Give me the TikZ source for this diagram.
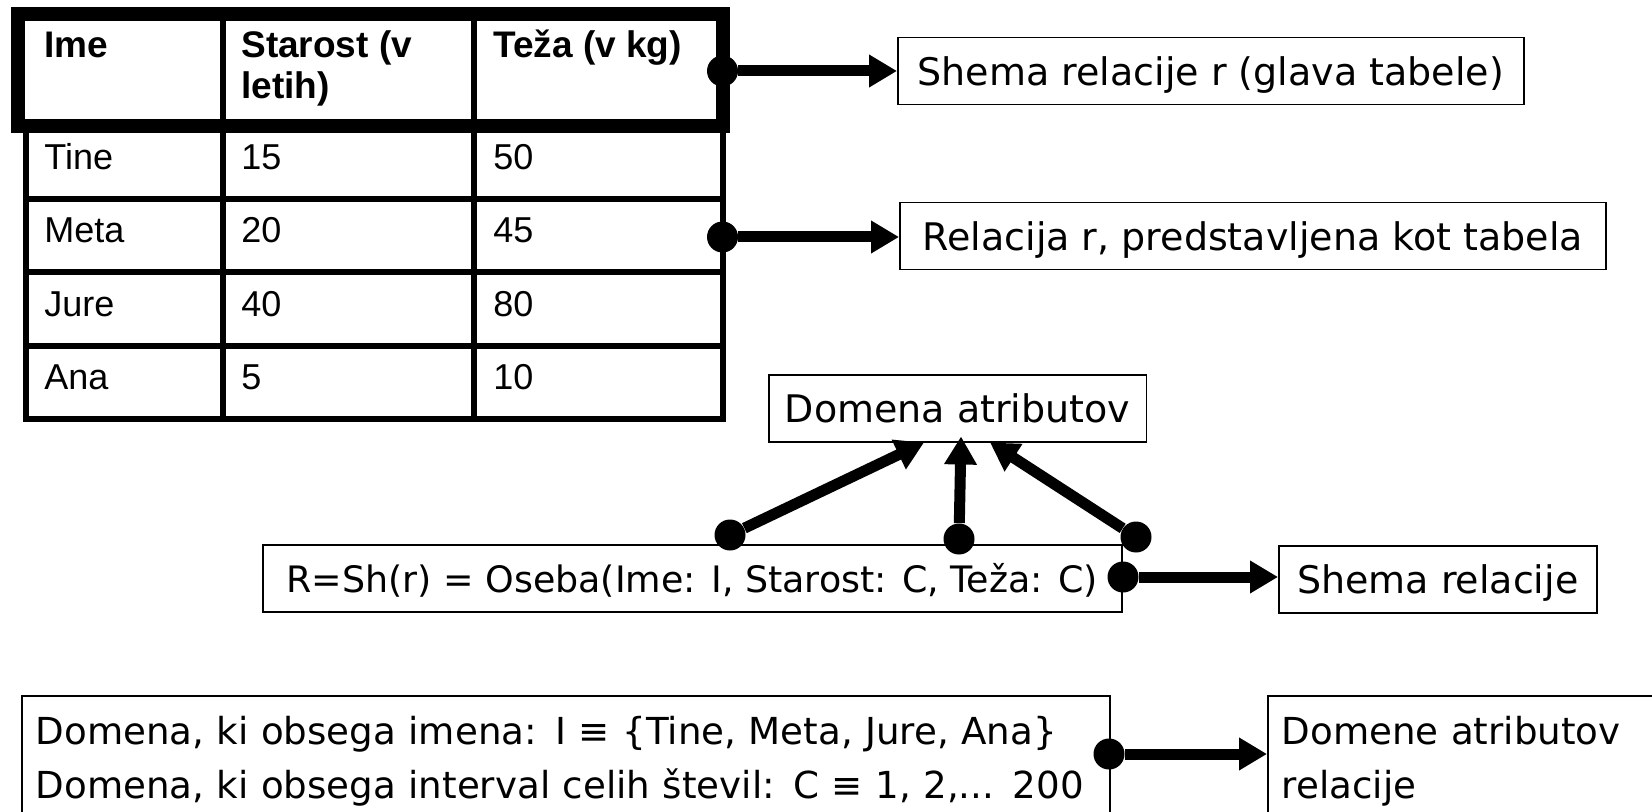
\documentclass[tikz,border=0pt]{standalone}
\usepackage{fontspec}
\setmainfont{DejaVu Sans}
\newfontfamily\tabfont{Liberation Sans}
\usetikzlibrary{arrows.meta}

\tikzset{
	box/.style={draw, line width=0.75pt, anchor=north west, inner xsep=8pt, inner ysep=0pt,
		minimum height=33.5pt, text height=13.8pt, text depth=0pt, font=\fontsize{19}{27}\selectfont},
	bigbox/.style={draw, line width=0.75pt, anchor=north west, align=left, inner xsep=7pt,
		inner ysep=9.5pt, font=\fontsize{18.6}{27}\selectfont},
	blob/.style={circle, fill, inner sep=0pt, minimum size=15.5pt},
	conn/.style={line width=5.5pt, -{Triangle[length=14pt,width=15.5pt]}},
	cell/.style={anchor=base west, inner sep=0pt, font=\tabfont\fontsize{18}{20}\selectfont},
	head/.style={anchor=base west, inner sep=0pt, font=\tabfont\bfseries\fontsize{18.5}{20}\selectfont}
}

\begin{document}
\begin{tikzpicture}[x=0.5pt,y=-0.5pt]
		\useasboundingbox (0,0) rectangle (1652,812);
		\clip (0,0) rectangle (1652,812);
		% tabela
		\draw[line width=7pt] (18,14) rectangle (722.5,126);
		\foreach \x in {222.5,474} \draw[line width=3pt, line cap=rect] (\x,14) -- (\x,418.5);
		\foreach \x in {25.5,722.5} \draw[line width=3pt, line cap=rect] (\x,126) -- (\x,418.5);
		\foreach \y in {199.5,272.5,345.5,418.5} \draw[line width=3pt, line cap=rect] (25.5,\y) -- (722.5,\y);
		\path
		(44,58) node[head](ime) {Ime}
		(241,58) node[head](starost) {Starost (v}
		(241,99) node[head](letih) {letih)}
		(493,58) node[head](teza) {Teža (v kg)}
		(44,170) node[cell](tine) {Tine}
		(241,170) node[cell](tine2) {15}
		(493,170) node[cell](tine3) {50}
		(44,243) node[cell](meta) {Meta}
		(241,243) node[cell](meta2) {20}
		(493,243) node[cell](meta3) {45}
		(44,316) node[cell](jure) {Jure}
		(241,316) node[cell](jure2) {40}
		(493,316) node[cell](jure3) {80}
		(44,389) node[cell](ana) {Ana}
		(241,389) node[cell](ana2) {5}
		(493,389) node[cell](ana3) {10};
		% okvirji
		\path
		(897,37) node[box, minimum width=313pt](glava) {Shema relacije r (glava tabele)}
		(899,202) node[box, minimum width=353pt](rel) {Relacija r, predstavljena kot tabela}
		(768,374) node[box, minimum width=187.5pt](dom) {Domena atributov}
		(262,544) node[box, minimum width=429.5pt, font=\fontsize{18.2}{27}\selectfont](sh) {R=Sh(r) = Oseba(Ime: I, Starost: C, Teža: C)}
		(1278,545) node[box, minimum width=159pt](shema) {Shema relacije}
		(21,695) node[bigbox, text width=530pt, minimum height=65pt](domene) {Domena, ki obsega imena: I ≡ \{Tine, Meta, Jure, Ana\}\\Domena, ki obsega interval celih števil: C ≡ 1, 2,... 200}
		(1267,695) node[bigbox, text width=200pt, minimum height=65pt](domrel) {Domene atributov\\relacije};
		% pike
		\path
		(722.5,71) node[blob](p1) {}
		(722.5,237) node[blob](p2) {}
		(730,535) node[blob](p3) {}
		(959,539) node[blob](p4) {}
		(1136,537) node[blob](p5) {}
		(1123,577) node[blob](p6) {}
		(1109,754) node[blob](p7) {};
		\draw[conn] (p1) -- (p1 -| glava.west);
		\draw[conn] (p2) -- (p2 -| rel.west);
		\draw[conn] (p3) -- ([xshift=-16.75pt]dom.south);
		\draw[conn] (p4) -- ([xshift=1.75pt,yshift=3pt]dom.south);
		\draw[conn] (p5) -- ([xshift=16.25pt]dom.south);
		\draw[conn] (p6) -- (p6 -| shema.west);
		\draw[conn] (p7) -- (p7 -| domrel.west);
	\end{tikzpicture}
\end{document}
